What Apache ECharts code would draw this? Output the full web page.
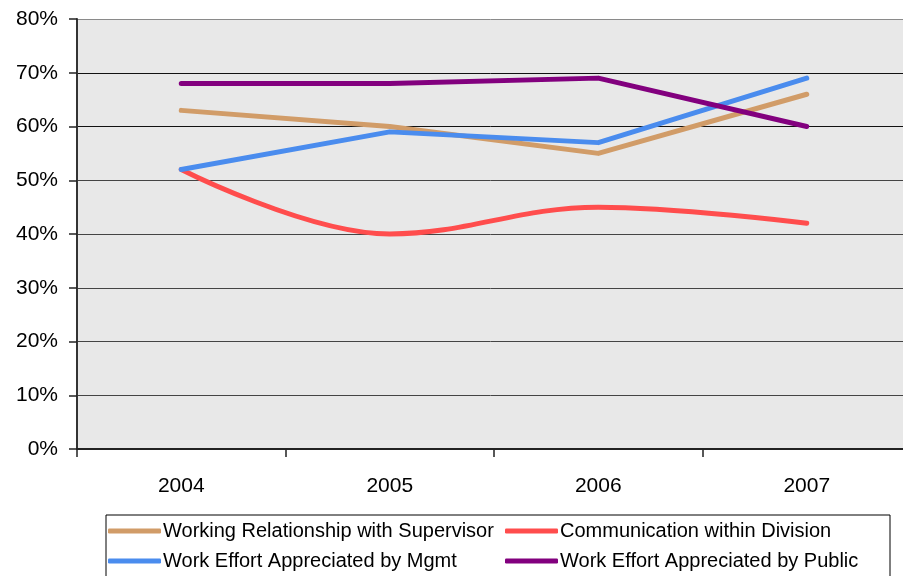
<!DOCTYPE html>
<html><head><meta charset="utf-8">
<script src="https://cdn.jsdelivr.net/npm/echarts@6/dist/echarts.min.js"></script>
<style>html,body{margin:0;padding:0;background:#fff}#c{width:903px;height:576px}</style>
</head><body><div id="c"></div>
<script>
const years = ['2004','2005','2006','2007'];
const supervisor = [63, 60, 55, 66];
const communication = [52, 40, 45, 42];
const mgmt = [52, 59, 57, 69];
const publicAppr = [68, 68, 69, 60];
const names = ['Working Relationship with Supervisor','Communication within Division','Work Effort Appreciated by Mgmt','Work Effort Appreciated by Public'];
const colors = ['#D19C68','#FF4D4D','#4A8CEE','#82007E'];
const smoothing = [false, 0.38, false, false];
const seriesData = [supervisor, communication, mgmt, publicAppr];

const chart = echarts.init(document.getElementById('c'), null, {renderer:'canvas'});
const font = 'Liberation Sans, Arial, sans-serif';
const splitColors = ['#000','#444','#444','#444','#444','#444','#111','#111','#8a8a8a'];
const legendPos = [[108,521],[505,521],[108,551],[505,551]];
chart.setOption({
  animation:false,
  grid:{left:77, top:19, right:-8, bottom:127, outerBoundsMode:'none', containLabel:false,
        show:true, backgroundColor:'#e8e8e8', borderWidth:0},
  xAxis:{type:'category', data:years, boundaryGap:true,
    axisLine:{lineStyle:{color:'#222', width:2}},
    axisTick:{show:true, length:8, lineStyle:{color:'#222', width:1.5}},
    axisLabel:{color:'#000', fontSize:21, fontFamily:font, margin:27},
    splitLine:{show:false}},
  yAxis:{type:'value', min:0, max:80, interval:10,
    axisLine:{show:true, lineStyle:{color:'#333', width:2}},
    axisTick:{show:true, length:8, lineStyle:{color:'#222', width:1.5}},
    axisLabel:{color:'#000', fontSize:21, fontFamily:font, formatter:'{value}%', margin:19},
    splitLine:{show:true, lineStyle:{color:splitColors, width:1}}},
  legend: names.map((n,i)=>({
    left:legendPos[i][0], top:legendPos[i][1], itemWidth:53, itemHeight:5, icon:'roundRect', padding:0,
    data:[n], textStyle:{fontSize:20, fontFamily:font, color:'#000', padding:[0,0,0,-3]}
  })),
  graphic:[{type:'rect', shape:{x:106, y:515, width:784, height:80}, style:{fill:'none', stroke:'#000', lineWidth:1}, silent:true}],
  series: seriesData.map((d,i)=>({
    name:names[i], type:'line', data:d, smooth:smoothing[i], showSymbol:false, symbol:'none',
    itemStyle:{color:colors[i]},
    lineStyle:{color:colors[i], width:5, cap:'round', join:'round'}
  }))
});
</script></body></html>
